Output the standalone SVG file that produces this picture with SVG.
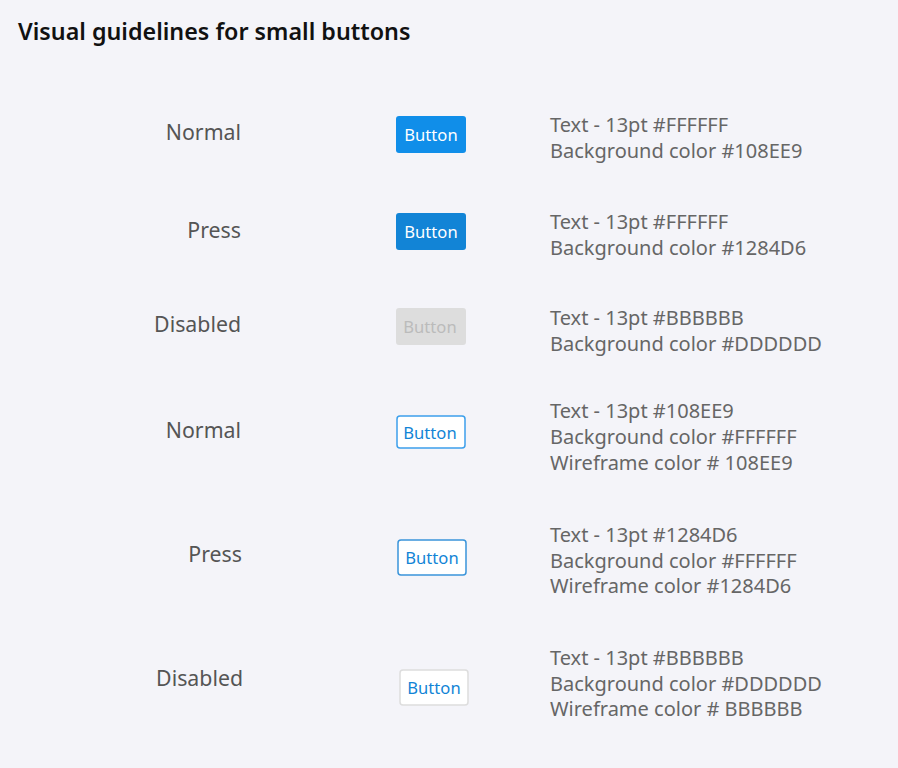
<svg xmlns="http://www.w3.org/2000/svg" width="898" height="768" viewBox="0 0 898 768">
<style>
.title{font-family:"Noto Sans","Liberation Sans",sans-serif;font-size:23.3px;font-weight:600;fill:#111}
.lbl{font-family:"Noto Sans","Liberation Sans",sans-serif;font-size:21.3px;fill:#555;text-anchor:end}
.desc{font-family:"Noto Sans","Liberation Sans",sans-serif;font-size:20px;fill:#666}
.btxt{font-family:"Noto Sans","Liberation Sans",sans-serif;font-size:16.6px;text-anchor:middle}
</style>
<rect width="898" height="768" fill="#F4F4F9"/>
<text class="title" x="18" y="40">Visual guidelines for small buttons</text>

<g id="row1">
<text class="lbl" x="241" y="140">Normal</text>
<rect x="396" y="116" width="70" height="37" rx="3" fill="#108EE9"/>
<text class="btxt" x="431" y="141" fill="#FFFFFF">Button</text>
<text class="desc" x="550" y="132">Text - 13pt #FFFFFF</text>
<text class="desc" x="550" y="158">Background color #108EE9</text>
</g>

<g id="row2">
<text class="lbl" x="241" y="238">Press</text>
<rect x="396" y="213" width="70" height="37" rx="3" fill="#1284D6"/>
<text class="btxt" x="431" y="238" fill="#FFFFFF">Button</text>
<text class="desc" x="550" y="229">Text - 13pt #FFFFFF</text>
<text class="desc" x="550" y="255">Background color #1284D6</text>
</g>

<g id="row3">
<text class="lbl" x="241" y="332">Disabled</text>
<rect x="396" y="308" width="70" height="37" rx="3" fill="#DDDDDD"/>
<text class="btxt" x="430" y="333" fill="#BBBBBB">Button</text>
<text class="desc" x="550" y="325">Text - 13pt #BBBBBB</text>
<text class="desc" x="550" y="351">Background color #DDDDDD</text>
</g>

<g id="row4">
<text class="lbl" x="241" y="438">Normal</text>
<rect x="397" y="416" width="68" height="32" rx="3" fill="#FFFFFF" stroke="#3C9FEB" stroke-width="1.5"/>
<text class="btxt" x="430" y="439" fill="#1284D6">Button</text>
<text class="desc" x="550" y="418">Text - 13pt #108EE9</text>
<text class="desc" x="550" y="444">Background color #FFFFFF</text>
<text class="desc" x="550" y="470">Wireframe color # 108EE9</text>
</g>

<g id="row5">
<text class="lbl" x="242" y="562">Press</text>
<rect x="398" y="540" width="68" height="35" rx="3" fill="#FFFFFF" stroke="#3A94DA" stroke-width="1.5"/>
<text class="btxt" x="432" y="564" fill="#1284D6">Button</text>
<text class="desc" x="550" y="542">Text - 13pt #1284D6</text>
<text class="desc" x="550" y="568">Background color #FFFFFF</text>
<text class="desc" x="550" y="593">Wireframe color #1284D6</text>
</g>

<g id="row6">
<text class="lbl" x="243" y="686">Disabled</text>
<rect x="400" y="670" width="68" height="35" rx="3" fill="#FFFFFF" stroke="#DDDDDD" stroke-width="1.5"/>
<text class="btxt" x="434" y="694" fill="#1284D6">Button</text>
<text class="desc" x="550" y="665">Text - 13pt #BBBBBB</text>
<text class="desc" x="550" y="691">Background color #DDDDDD</text>
<text class="desc" x="550" y="716">Wireframe color # BBBBBB</text>
</g>
</svg>
